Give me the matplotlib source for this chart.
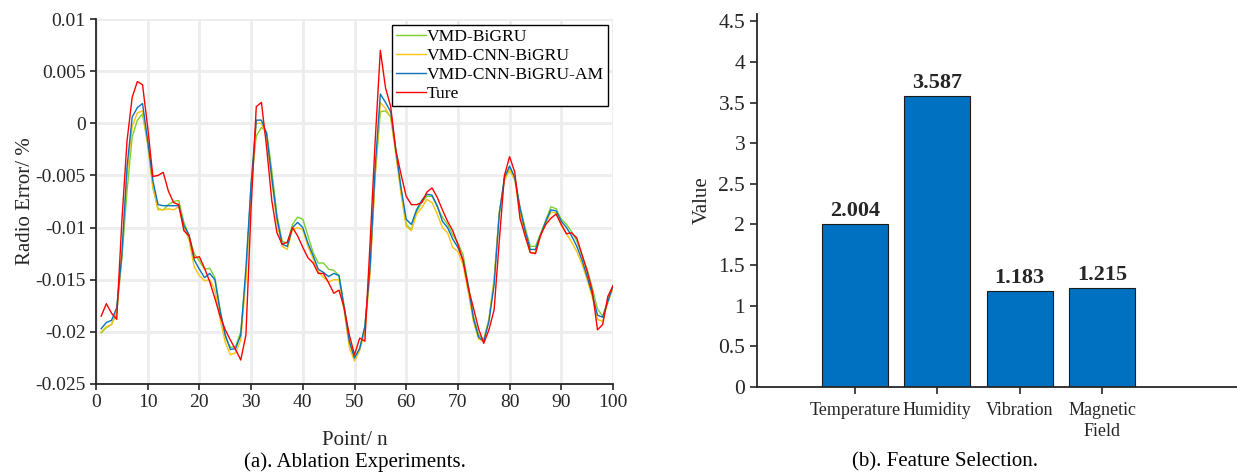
import matplotlib
matplotlib.use("Agg")
import matplotlib.pyplot as plt
import numpy as np

plt.rcParams['font.family'] = ['Liberation Serif', 'DejaVu Serif']
plt.rcParams['mathtext.fontset'] = 'stix'

points = list(range(1, 101))

bigru = [-0.0201, -0.0196, -0.0193, -0.0182, -0.0130, -0.0065, -0.0013, 0.0003, 0.0009, -0.0020,
         -0.0062, -0.0082, -0.0083, -0.0078, -0.0075, -0.0074, -0.0095, -0.0108, -0.0125, -0.0132,
         -0.0140, -0.0139, -0.0148, -0.0178, -0.0205, -0.0215, -0.0214, -0.0200, -0.0145, -0.0060,
         -0.0012, -0.0004, -0.0008, -0.0045, -0.0088, -0.0113, -0.0115, -0.0097, -0.0090, -0.0092,
         -0.0108, -0.0124, -0.0134, -0.0134, -0.0140, -0.0141, -0.0146, -0.0175, -0.0210, -0.0225,
         -0.0216, -0.0195, -0.0140, -0.0050, 0.0011, 0.0012, 0.0006, -0.0028, -0.0063, -0.0097,
         -0.0102, -0.0085, -0.0076, -0.0070, -0.0070, -0.0080, -0.0090, -0.0097, -0.0107, -0.0115,
         -0.0126, -0.0155, -0.0185, -0.0203, -0.0207, -0.0188, -0.0150, -0.0087, -0.0053, -0.0042,
         -0.0052, -0.0080, -0.0100, -0.0118, -0.0118, -0.0106, -0.0093, -0.0080, -0.0082, -0.0092,
         -0.0097, -0.0104, -0.0113, -0.0126, -0.0140, -0.0158, -0.0178, -0.0185, -0.0170, -0.0155]

cnn_bigru = [-0.0200, -0.0195, -0.0193, -0.0180, -0.0125, -0.0050, -0.0003, 0.0010, 0.0012, -0.0020,
             -0.0060, -0.0083, -0.0083, -0.0082, -0.0083, -0.0080, -0.0100, -0.0112, -0.0138, -0.0146,
             -0.0151, -0.0150, -0.0160, -0.0188, -0.0210, -0.0222, -0.0220, -0.0208, -0.0150, -0.0065,
             0.0000, 0.0000, -0.0012, -0.0055, -0.0095, -0.0118, -0.0121, -0.0102, -0.0100, -0.0102,
             -0.0118, -0.0130, -0.0142, -0.0148, -0.0152, -0.0150, -0.0150, -0.0180, -0.0215, -0.0228,
             -0.0218, -0.0200, -0.0145, -0.0050, 0.0020, 0.0014, 0.0006, -0.0030, -0.0068, -0.0099,
             -0.0103, -0.0087, -0.0081, -0.0073, -0.0076, -0.0087, -0.0100, -0.0105, -0.0119, -0.0123,
             -0.0136, -0.0162, -0.0190, -0.0207, -0.0209, -0.0188, -0.0150, -0.0085, -0.0055, -0.0045,
             -0.0055, -0.0086, -0.0108, -0.0124, -0.0124, -0.0108, -0.0096, -0.0085, -0.0086, -0.0098,
             -0.0106, -0.0114, -0.0123, -0.0135, -0.0150, -0.0167, -0.0188, -0.0190, -0.0172, -0.0158]

cnn_bigru_am = [-0.0197, -0.0191, -0.0189, -0.0177, -0.0126, -0.0042, 0.0006, 0.0015, 0.0019, -0.0017,
                -0.0055, -0.0078, -0.0079, -0.0079, -0.0079, -0.0079, -0.0098, -0.0107, -0.0131, -0.0140,
                -0.0148, -0.0144, -0.0150, -0.0180, -0.0203, -0.0217, -0.0216, -0.0203, -0.0139, -0.0058,
                0.0003, 0.0003, -0.0010, -0.0052, -0.0091, -0.0116, -0.0118, -0.0100, -0.0095, -0.0100,
                -0.0115, -0.0127, -0.0140, -0.0143, -0.0147, -0.0144, -0.0146, -0.0177, -0.0209, -0.0225,
                -0.0216, -0.0195, -0.0139, -0.0042, 0.0028, 0.0020, 0.0011, -0.0026, -0.0062, -0.0092,
                -0.0097, -0.0083, -0.0074, -0.0068, -0.0069, -0.0079, -0.0094, -0.0100, -0.0111, -0.0119,
                -0.0131, -0.0156, -0.0187, -0.0205, -0.0209, -0.0190, -0.0155, -0.0087, -0.0052, -0.0041,
                -0.0052, -0.0081, -0.0103, -0.0121, -0.0121, -0.0107, -0.0094, -0.0083, -0.0084, -0.0094,
                -0.0100, -0.0108, -0.0118, -0.0131, -0.0147, -0.0164, -0.0184, -0.0186, -0.0171, -0.0156]

true_vals = [-0.0185, -0.0173, -0.0182, -0.0188, -0.0094, -0.0017, 0.0025, 0.0040, 0.0037, -0.0004,
             -0.0051, -0.0050, -0.0047, -0.0065, -0.0076, -0.0078, -0.0103, -0.0108, -0.0129, -0.0128,
             -0.0139, -0.0152, -0.0168, -0.0185, -0.0198, -0.0208, -0.0217, -0.0227, -0.0203, -0.0081,
             0.0016, 0.0020, -0.0023, -0.0074, -0.0105, -0.0116, -0.0114, -0.0100, -0.0108, -0.0119,
             -0.0129, -0.0134, -0.0144, -0.0144, -0.0153, -0.0163, -0.0160, -0.0177, -0.0203, -0.0222,
             -0.0206, -0.0209, -0.0116, -0.0017, 0.0070, 0.0034, 0.0016, -0.0026, -0.0049, -0.0070,
             -0.0078, -0.0078, -0.0076, -0.0066, -0.0062, -0.0071, -0.0083, -0.0094, -0.0103, -0.0116,
             -0.0132, -0.0158, -0.0177, -0.0197, -0.0211, -0.0198, -0.0179, -0.0113, -0.0050, -0.0032,
             -0.0047, -0.0091, -0.0108, -0.0124, -0.0125, -0.0107, -0.0097, -0.0091, -0.0087, -0.0097,
             -0.0106, -0.0105, -0.0110, -0.0126, -0.0142, -0.0161, -0.0198, -0.0193, -0.0166, -0.0156]

series_names = ['VMD-BiGRU', 'VMD-CNN-BiGRU', 'VMD-CNN-BiGRU-AM', 'Ture']
series_colors = ['#77d22e', '#ffc20e', '#0a72bd', '#ff0000']

features = ['Temperature', 'Humidity', 'Vibration', 'Magnetic\nField']
importance = [2.004, 3.587, 1.183, 1.215]

fig = plt.figure(figsize=(12.37, 4.75), dpi=100)

# ---- (a) line chart ----
ax1 = fig.add_axes([96/1237, 1-384/475, (613-96)/1237, (384-19)/475])
for vals, name, col in zip([bigru, cnn_bigru, cnn_bigru_am, true_vals], series_names, series_colors):
    ax1.plot(points, vals, color=col, lw=1.0, label=name)
ax1.set_xlim(0, 100)
ax1.set_ylim(-0.025, 0.01)
ax1.set_xticks(np.arange(0, 101, 10))
ax1.set_yticks(np.arange(-0.025, 0.0101, 0.005))
ax1.set_yticklabels(['-0.025', '-0.02', '-0.015', '-0.01', '-0.005', '0', '0.005', '0.01'])
ax1.grid(True, color='#ededed', lw=2)
ax1.set_axisbelow(True)
for s in ['top', 'right']:
    ax1.spines[s].set_visible(False)
for s in ['left', 'bottom']:
    ax1.spines[s].set_linewidth(1.3)
    ax1.spines[s].set_color('#262626')
ax1.tick_params(direction='out', length=4, width=1.2, labelsize=14, colors='#262626', labelcolor='#262626')
ax1.set_xlabel('Point/ n', fontsize=15, labelpad=14, color='#262626')
ax1.set_ylabel('Radio Error/ %', fontsize=15, labelpad=0, color='#262626')
leg = ax1.legend(loc='upper right', bbox_to_anchor=(608/1237, 1-25/475), bbox_transform=fig.transFigure,
                 fontsize=12.6, frameon=True, fancybox=False,
                 edgecolor='black', framealpha=1, handlelength=1.75, handletextpad=0.05,
                 labelspacing=0.16, borderpad=0.22, borderaxespad=0.0)
leg.get_frame().set_linewidth(1.0)
fig.text(355/1237, 1-462/475, '(a). Ablation Experiments.', ha='center', va='center', fontsize=15)

# ---- (b) bar chart ----
ax2 = fig.add_axes([757/1237, 1-387/475, (1237-757)/1237, (387-14)/475])
pos = np.arange(1, len(features)+1)
bars = ax2.bar(pos, importance, width=0.8, color='#0070c0', edgecolor='#1a1a1a', lw=0.8)
ax2.set_xlim(1-98/82.5, 4+135/82.5)
ax2.set_ylim(0, 4.59)
ax2.set_yticks(np.arange(0, 4.51, 0.5))
ax2.set_yticklabels(['0', '0.5', '1', '1.5', '2', '2.5', '3', '3.5', '4', '4.5'])
ax2.set_xticks(pos)
ax2.set_xticklabels([])
for p, lab in zip(pos, features):
    ax2.annotate(lab, xy=(p, 0), xycoords=('data', 'axes fraction'), xytext=(0, -11),
                 textcoords='offset points', ha='center', va='top', fontsize=13,
                 color='#262626', linespacing=1.3)
for p, v in zip(pos, importance):
    ax2.annotate(f'{v:.3f}', xy=(p, v), xytext=(0, 2), textcoords='offset points',
                 ha='center', va='bottom', fontsize=16, fontweight='bold', color='#262626')
for s in ['top', 'right']:
    ax2.spines[s].set_visible(False)
for s in ['left', 'bottom']:
    ax2.spines[s].set_linewidth(1.3)
    ax2.spines[s].set_color('#262626')
ax2.tick_params(direction='out', length=5, width=1.2, labelsize=15.5, colors='#262626', labelcolor='#262626')
ax2.set_ylabel('Value', fontsize=15, labelpad=5, color='#262626')
fig.text(945/1237, 1-462/475, '(b). Feature Selection.', ha='center', va='center', fontsize=15)

fig.savefig('out.png', dpi=100)
